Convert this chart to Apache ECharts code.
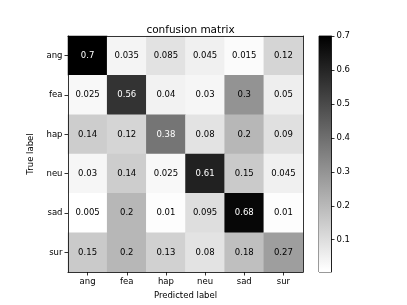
<!DOCTYPE html>
<html><head><meta charset="utf-8">
<script src="https://cdn.jsdelivr.net/npm/echarts@6/dist/echarts.min.js"></script>
<style>html,body{margin:0;padding:0;background:#fff}#c{width:407px;height:305px}</style>
</head><body><div id="c"></div>
<script>
var classes = ['ang', 'fea', 'hap', 'neu', 'sad', 'sur'];
var rowAng = [0.7, 0.035, 0.085, 0.045, 0.015, 0.12];
var rowFea = [0.025, 0.56, 0.04, 0.03, 0.3, 0.05];
var rowHap = [0.14, 0.12, 0.38, 0.08, 0.2, 0.09];
var rowNeu = [0.03, 0.14, 0.025, 0.61, 0.15, 0.045];
var rowSad = [0.005, 0.2, 0.01, 0.095, 0.68, 0.01];
var rowSur = [0.15, 0.2, 0.13, 0.08, 0.18, 0.27];
var colorbarTicks = [0.1, 0.2, 0.3, 0.4, 0.5, 0.6, 0.7];
var vmin = 0.005, vmax = 0.7;

var rows = [rowAng, rowFea, rowHap, rowNeu, rowSad, rowSur];
var thresh = vmax / 2;
var data = [];
rows.forEach(function (r, i) {
  r.forEach(function (v, j) {
    data.push({ value: [j, i, v], label: { color: v > thresh ? '#fff' : '#000' } });
  });
});

var FONT = 'DejaVu Sans';
var chart = echarts.init(document.getElementById('c'), null, { renderer: 'canvas' });
chart.setOption({
  animation: false,
  textStyle: { fontFamily: FONT },
  title: {
    text: 'confusion matrix', left: 185.5, top: 20, textAlign: 'center',
    textStyle: { fontFamily: FONT, fontSize: 10.5, fontWeight: 'normal', color: '#000' }
  },
  grid: [
    { left: 68, top: 36, width: 235, height: 236 },
    { left: 319, top: 36, width: 12, height: 236, show: true, borderColor: '#000', borderWidth: 0.8, backgroundColor: 'transparent' }
  ],
  visualMap: {
    show: false, type: 'continuous', min: vmin, max: vmax, seriesIndex: 0,
    inRange: { color: ['#ffffff', '#000000'] }
  },
  xAxis: [
    {
      gridIndex: 0, type: 'category', data: classes, position: 'bottom', z: 10,
      name: 'Predicted label', nameLocation: 'middle', nameGap: 18,
      nameTextStyle: { fontFamily: FONT, fontSize: 8.5, color: '#000' },
      axisLine: { show: true, lineStyle: { color: '#000', width: 0.8 } },
      axisTick: { show: true, alignWithLabel: true, length: 3.5, lineStyle: { color: '#000', width: 0.8 } },
      axisLabel: { fontFamily: FONT, fontSize: 8.5, color: '#000', margin: 5 },
      splitLine: { show: false }
    },
    {
      gridIndex: 0, type: 'category', data: classes, position: 'top', z: 10,
      axisLine: { show: true, onZero: false, lineStyle: { color: '#000', width: 0.8 } },
      axisTick: { show: false }, axisLabel: { show: false }, splitLine: { show: false }
    },
    {
      gridIndex: 1, type: 'category', data: ['cb'], show: false
    }
  ],
  yAxis: [
    {
      gridIndex: 0, type: 'category', data: classes, inverse: true, position: 'left', z: 10,
      name: 'True label', nameLocation: 'middle', nameGap: 27, nameRotate: 90,
      nameTextStyle: { fontFamily: FONT, fontSize: 8.5, color: '#000' },
      axisLine: { show: true, lineStyle: { color: '#000', width: 0.8 } },
      axisTick: { show: true, alignWithLabel: true, length: 3.5, lineStyle: { color: '#000', width: 0.8 } },
      axisLabel: { fontFamily: FONT, fontSize: 8.5, color: '#000', margin: 5.5 },
      splitLine: { show: false }
    },
    {
      gridIndex: 0, type: 'category', data: classes, inverse: true, position: 'right', z: 10,
      axisLine: { show: true, onZero: false, lineStyle: { color: '#000', width: 0.8 } },
      axisTick: { show: false }, axisLabel: { show: false }, splitLine: { show: false }
    },
    {
      gridIndex: 1, type: 'value', min: vmin, max: vmax, position: 'right', z: 10,
      axisLine: { show: true, onZero: false, lineStyle: { color: '#000', width: 0.8 } },
      axisTick: { show: true, length: 3.5, customValues: colorbarTicks, lineStyle: { color: '#000', width: 0.8 } },
      axisLabel: { fontFamily: FONT, fontSize: 8.5, color: '#000', margin: 5.5, customValues: colorbarTicks,
        formatter: function (v) { return v.toFixed(1); } },
      splitLine: { show: false }
    }
  ],
  series: [
    {
      type: 'heatmap', xAxisIndex: 0, yAxisIndex: 0, data: data,
      label: { show: true, fontFamily: FONT, fontSize: 8.5, formatter: function (p) { return String(p.value[2]); } },
      itemStyle: { borderWidth: 0 },
      emphasis: { disabled: true }
    },
    {
      type: 'bar', xAxisIndex: 2, yAxisIndex: 2, data: [vmax], barWidth: '100%', clip: true,
      itemStyle: {
        color: new echarts.graphic.LinearGradient(0, 0, 0, 1, [
          { offset: 0, color: '#000000' },
          { offset: 1 - vmin / vmax, color: '#ffffff' },
          { offset: 1, color: '#ffffff' }
        ])
      },
      silent: true
    }
  ]
});
</script></body></html>
